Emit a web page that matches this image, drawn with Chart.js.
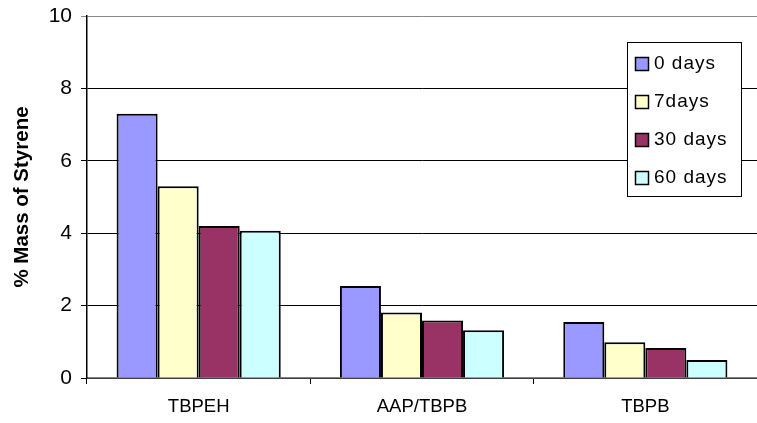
<!DOCTYPE html>
<html>
<head>
<meta charset="utf-8">
<script src="https://cdn.jsdelivr.net/npm/chart.js@4"></script>
<style>
  html, body { margin: 0; padding: 0; background: #fff; }
  #wrap { width: 757px; height: 423px; }
</style>
</head>
<body>
<div id="wrap"><canvas id="chart"></canvas></div>
<script>
const categories = ["TBPEH", "AAP/TBPB", "TBPB"];
const seriesNames = ["0 days", "7days", "30 days", "60 days"];
const day0 = [7.3, 2.54, 1.55];
const day7 = [5.3, 1.81, 0.99];
const day30 = [4.2, 1.59, 0.83];
const day60 = [4.07, 1.32, 0.5];
const yTicks = [0, 2, 4, 6, 8, 10];

const colors = ["#9999FF", "#FFFFCC", "#993366", "#CCFFFF"];
const font = "'Liberation Sans', Arial, sans-serif";

// legend drawn inside the plot, Excel style
const boxLegend = {
  id: "boxLegend",
  afterDraw(chart) {
    const ctx = chart.ctx;
    const x0 = 627, y0 = 42, w = 114, h = 154;
    ctx.save();
    ctx.fillStyle = "#fff";
    ctx.fillRect(x0, y0, w, h);
    ctx.strokeStyle = "#000";
    ctx.lineWidth = 1;
    ctx.strokeRect(x0 + 0.5, y0 + 0.5, w, h);
    ctx.font = "19px " + font;
    ctx.letterSpacing = "1px";
    ctx.textBaseline = "middle";
    chart.data.datasets.forEach((ds, i) => {
      const cy = y0 + 21 + i * 38;
      ctx.fillStyle = ds.backgroundColor;
      ctx.fillRect(x0 + 8, cy - 6, 13, 13);
      ctx.lineWidth = 1.5;
      ctx.strokeRect(x0 + 8.5, cy - 5.5, 13, 13);
      ctx.fillStyle = "#000";
      ctx.fillText(ds.label, x0 + 27, cy + 1);
    });
    ctx.restore();
  }
};

const data = [day0, day7, day30, day60];

new Chart(document.getElementById("chart").getContext("2d"), {
  type: "bar",
  data: {
    labels: categories,
    datasets: seriesNames.map((name, i) => ({
      label: name,
      data: data[i],
      backgroundColor: colors[i],
      borderColor: "#000",
      borderWidth: 2,
      categoryPercentage: 0.735,
      barPercentage: 1.0,
    })),
  },
  options: {
    responsive: true,
    maintainAspectRatio: false,
    animation: false,
    layout: { padding: { top: 16, right: 0, left: 0, bottom: 0 } },
    plugins: {
      legend: { display: false },
      tooltip: { enabled: false },
    },
    scales: {
      x: {
        grid: {
          offset: true,
          drawOnChartArea: false,
          drawTicks: true,
          tickLength: 6,
          color: "#000",
        },
        border: { color: "#808080", width: 1.5 },
        ticks: {
          color: "#000",
          font: { family: font, size: 18.5 },
          padding: 12,
        },
        afterFit(scale) {
          scale.height = 45;
          scale.paddingLeft = 0;
          scale.paddingRight = 0;
        },
      },
      y: {
        min: 0,
        max: 10,
        afterBuildTicks(scale) {
          scale.ticks = yTicks.map(v => ({ value: v }));
        },
        grid: {
          color: (c) => c.tick && c.tick.value === 10 ? "#888" : "#000",
          lineWidth: 1,
          tickLength: 6,
        },
        border: { color: "#000", width: 1.5 },
        ticks: {
          color: "#000",
          font: { family: font, size: 21 },
          padding: 9,
        },
        title: {
          display: true,
          text: "% Mass of Styrene",
          color: "#000",
          font: { family: font, size: 20.5, weight: "bold" },
          padding: { top: 10, bottom: 0 },
        },
        afterFit(scale) {
          scale.width = 87;
          scale.paddingTop = 0;
          scale.paddingBottom = 0;
        },
      },
    },
  },
  plugins: [boxLegend],
});
</script>
</body>
</html>
